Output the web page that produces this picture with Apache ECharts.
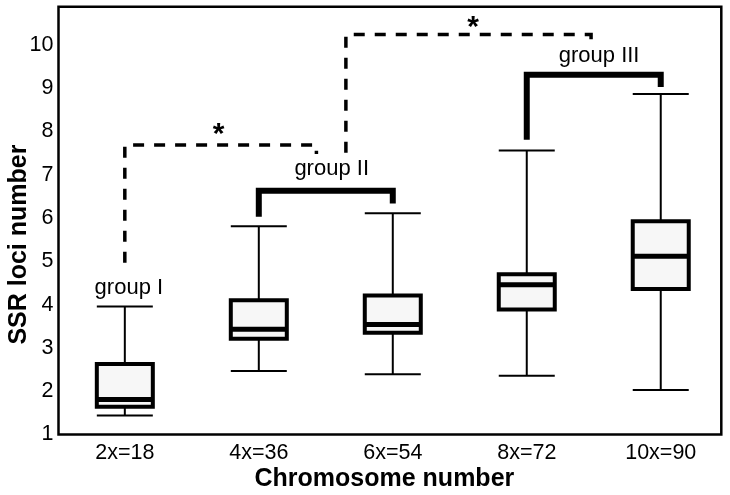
<!DOCTYPE html>
<html><head><meta charset="utf-8">
<script src="https://cdn.jsdelivr.net/npm/echarts@6/dist/echarts.min.js"></script>
<style>html,body{margin:0;padding:0;background:#fff}#c{width:730px;height:495px}</style>
</head><body><div id="c"></div>
<script>
// ---- data ----
const categories = ['2x=18', '4x=36', '6x=54', '8x=72', '10x=90'];
const whiskerMin = [1.44, 2.47, 2.39, 2.36, 2.03];
const q1         = [1.64, 3.21, 3.35, 3.89, 4.36];
const median     = [1.81, 3.43, 3.54, 4.46, 5.12];
const q3         = [2.63, 4.10, 4.21, 4.70, 5.93];
const whiskerMax = [3.96, 5.81, 6.11, 7.56, 8.87];
const yTicks = [1, 2, 3, 4, 5, 6, 7, 8, 9, 10];
const categoryPos = [1, 2, 3, 4, 5];
// annotation brackets in data coordinates [category position, value]
const bracketI_II   = [[1, 4.97], [1, 7.69], [2.43, 7.69], [2.43, 7.48]];
const bracketII_III = [[2.65, 7.51], [2.65, 10.24], [4.48, 10.24], [4.48, 10.0]];
const groupIIBracket  = [[2, 6.03], [2, 6.63], [3, 6.63], [3, 6.34]];
const groupIIIBracket = [[4, 7.81], [4, 9.31], [5, 9.31], [5, 9.03]];
const groupLabels = [[1.03, 4.39, 'group I'], [2.544, 7.14, 'group II'], [4.54, 9.75, 'group III']];
const stars = [[1.70, 7.93, '*'], [3.60, 10.41, '*']];

// ---- chart ----
const FONT = '"Liberation Sans", Arial, Helvetica, sans-serif';
const boxData = categoryPos.map((p, i) => [p, whiskerMin[i], q1[i], median[i], q3[i], whiskerMax[i]]);

function renderBox(params, api) {
  const x = api.value(0);
  const pMin = api.coord([x, api.value(1)]);
  const pQ1 = api.coord([x, api.value(2)]);
  const pMed = api.coord([x, api.value(3)]);
  const pQ3 = api.coord([x, api.value(4)]);
  const pMax = api.coord([x, api.value(5)]);
  const hw = api.size([1, 0])[0] * 0.209;
  const cx = pMed[0];
  const thin = { stroke: '#000', lineWidth: 2 };
  return {
    type: 'group',
    children: [
      { type: 'line', shape: { x1: cx, y1: pQ3[1], x2: cx, y2: pMax[1] }, style: thin },
      { type: 'line', shape: { x1: cx, y1: pQ1[1], x2: cx, y2: pMin[1] }, style: thin },
      { type: 'line', shape: { x1: cx - hw, y1: pMax[1], x2: cx + hw, y2: pMax[1] }, style: thin },
      { type: 'line', shape: { x1: cx - hw, y1: pMin[1], x2: cx + hw, y2: pMin[1] }, style: thin },
      { type: 'rect', shape: { x: cx - hw, y: pQ3[1], width: 2 * hw, height: pQ1[1] - pQ3[1] },
        style: { fill: '#f7f7f7', stroke: '#000', lineWidth: 4 } },
      { type: 'line', shape: { x1: cx - hw, y1: pMed[1], x2: cx + hw, y2: pMed[1] },
        style: { stroke: '#000', lineWidth: 5 } }
    ]
  };
}

const dashed = { color: '#000', width: 3.5, type: [11, 10], join: 'miter', cap: 'butt', opacity: 1 };
const solid = { color: '#000', width: 6, type: 'solid', join: 'miter', cap: 'butt', opacity: 1 };
function bracket(data, style) {
  return { type: 'line', data: data, symbol: 'none', silent: true, lineStyle: style, z: 3 };
}
const textLabel = (size, weight) => ({
  show: true, position: 'inside', formatter: p => p.data[2], fontSize: size, fontWeight: weight,
  color: '#000', fontFamily: FONT, textBorderWidth: 0, opacity: 1
});

const chart = echarts.init(document.getElementById('c'), null, { renderer: 'canvas' });
chart.setOption({
  animation: false,
  backgroundColor: '#fff',
  grid: { left: 58.5, top: 6.7, right: 8.7, bottom: 60.5, containLabel: false, outerBoundsMode: 'none',
    show: true, borderColor: '#000', borderWidth: 2.5, backgroundColor: 'transparent' },
  xAxis: {
    type: 'value', min: 0.505, max: 5.452,
    splitLine: { show: false }, axisLine: { show: false }, axisTick: { show: false },
    axisLabel: { customValues: categoryPos, formatter: v => categories[Math.round(v) - 1] || '',
      fontSize: 21.5, color: '#000', fontFamily: FONT, margin: 8 },
    name: 'Chromosome number', nameLocation: 'middle', nameGap: 32, nameMoveOverlap: false,
    nameTextStyle: { fontSize: 25, fontWeight: 'bold', color: '#000', fontFamily: FONT, padding: [0, 11, 0, 0] }
  },
  yAxis: {
    type: 'value', min: 1, max: 10.885, interval: 1,
    splitLine: { show: false }, axisLine: { show: false }, axisTick: { show: false },
    axisLabel: { customValues: yTicks, formatter: v => (yTicks.indexOf(v) >= 0 ? String(v) : ''),
      fontSize: 21.5, color: '#000', fontFamily: FONT, margin: 5 },
    name: 'SSR loci number', nameLocation: 'middle', nameGap: 27, nameRotate: 90, nameMoveOverlap: false,
    nameTextStyle: { fontSize: 25, fontWeight: 'bold', color: '#000', fontFamily: FONT, padding: [0, 48, 0, 0] }
  },
  series: [
    { type: 'custom', renderItem: renderBox, data: boxData, silent: true, z: 2 },
    bracket(bracketI_II, dashed),
    bracket(bracketII_III, dashed),
    bracket(groupIIBracket, solid),
    bracket(groupIIIBracket, solid),
    { type: 'scatter', data: groupLabels, symbolSize: 1, itemStyle: { color: 'transparent' }, silent: true, z: 4,
      label: textLabel(22, 'normal') },
    { type: 'scatter', data: stars, symbolSize: 1, itemStyle: { color: 'transparent' }, silent: true, z: 4,
      label: textLabel(30, 'bold') }
  ]
});
</script>
</body></html>
